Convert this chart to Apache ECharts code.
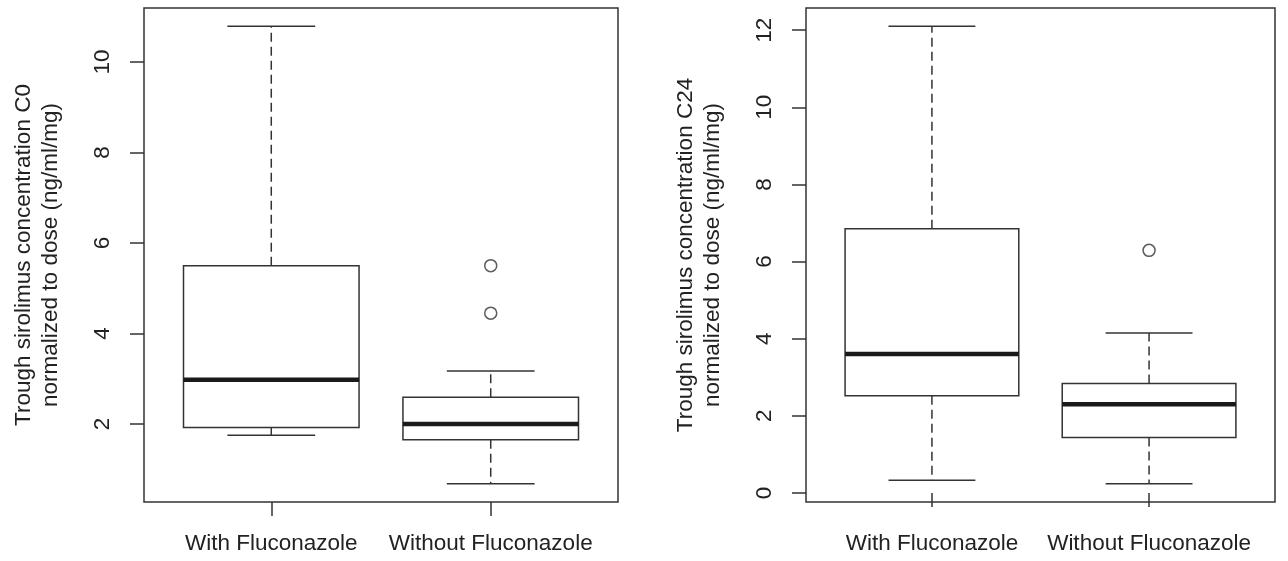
<!DOCTYPE html>
<html>
<head>
<meta charset="utf-8">
<script src="https://cdn.jsdelivr.net/npm/echarts@6/dist/echarts.min.js"></script>
<style>
  html, body { margin: 0; padding: 0; background: #fff; }
  #chart { width: 1288px; height: 561px; }
</style>
</head>
<body>
<div id="chart"></div>
<script>
var categories = ['With Fluconazole', 'Without Fluconazole'];

// [lower whisker, Q1, median, Q3, upper whisker] per group
var c0Stats = [
    [1.75, 1.92, 2.98, 5.50, 10.79],
    [0.68, 1.65, 2.00, 2.59, 3.17]
];
var c0Outliers = [[2, 5.50], [2, 4.45]];
var c0Ticks = [2, 4, 6, 8, 10];

var c24Stats = [
    [0.33, 2.52, 3.60, 6.85, 12.10],
    [0.24, 1.44, 2.30, 2.84, 4.15]
];
var c24Outliers = [[2, 6.29]];
var c24Ticks = [0, 2, 4, 6, 8, 10, 12];

var lineColor = '#333';
var textColor = '#222';
var font = 'Liberation Sans, Arial, sans-serif';
var fontSize = 22.5;

var chart = echarts.init(document.getElementById('chart'));

function boxData(stats) {
    return stats.map(function (s, i) {
        return [i + 1].concat(s);
    });
}

// R style range: data range padded by 4% on each side
function yRange(stats, outliers) {
    var vals = [];
    stats.forEach(function (s) { vals = vals.concat(s); });
    outliers.forEach(function (o) { vals.push(o[1]); });
    var lo = Math.min.apply(null, vals), hi = Math.max.apply(null, vals);
    var pad = (hi - lo) * 0.04;
    return [lo - pad, hi + pad];
}

function renderBox(params, api) {
    var x = api.value(0);
    var lo = api.coord([x, api.value(1)]);
    var q1 = api.coord([x, api.value(2)]);
    var med = api.coord([x, api.value(3)]);
    var q3 = api.coord([x, api.value(4)]);
    var hi = api.coord([x, api.value(5)]);
    var half = api.size([0.4, 0])[0];
    var cap = half / 2;
    var cx = med[0];
    var solid = { stroke: lineColor, lineWidth: 1.5, fill: null };
    var dashed = { stroke: lineColor, lineWidth: 1.5, lineDash: [9, 5] };
    return {
        type: 'group',
        children: [
            { type: 'line', shape: { x1: cx, y1: q3[1], x2: cx, y2: hi[1] }, style: dashed },
            { type: 'line', shape: { x1: cx, y1: q1[1], x2: cx, y2: lo[1] }, style: dashed },
            { type: 'line', shape: { x1: cx - cap, y1: hi[1], x2: cx + cap, y2: hi[1] }, style: solid },
            { type: 'line', shape: { x1: cx - cap, y1: lo[1], x2: cx + cap, y2: lo[1] }, style: solid },
            { type: 'rect', shape: { x: cx - half, y: q3[1], width: half * 2, height: q1[1] - q3[1] },
              style: { stroke: lineColor, lineWidth: 1.5, fill: '#fff' } },
            { type: 'line', shape: { x1: cx - half, y1: med[1], x2: cx + half, y2: med[1] },
              style: { stroke: '#1a1a1a', lineWidth: 4.5 } }
        ]
    };
}

function xAxisFor(idx) {
    return {
        type: 'value', gridIndex: idx, min: 0.42, max: 2.58,
        axisLine: { show: false },
        splitLine: { show: false },
        axisTick: { show: true, inside: false, length: 14, customValues: [1, 2],
            lineStyle: { color: lineColor, width: 1.5 } },
        axisLabel: { customValues: [1, 2], margin: 30, color: textColor, fontSize: fontSize, fontFamily: font,
            formatter: function (v) { return categories[Math.round(v) - 1]; } }
    };
}

function yAxisFor(idx, range, ticks, name, gap) {
    return {
        type: 'value', gridIndex: idx, min: range[0], max: range[1],
        name: name, nameLocation: 'middle', nameGap: gap, nameRotate: 90,
        nameTextStyle: { color: textColor, fontSize: fontSize, fontFamily: font, lineHeight: 27 },
        axisLine: { show: false },
        splitLine: { show: false },
        axisTick: { show: true, length: 14, customValues: ticks,
            lineStyle: { color: lineColor, width: 1.5 } },
        axisLabel: { customValues: ticks, rotate: 90, margin: 30, color: textColor,
            fontSize: fontSize, fontFamily: font }
    };
}

var r0 = yRange(c0Stats, c0Outliers);
var r24 = yRange(c24Stats, c24Outliers);

var option = {
    backgroundColor: '#fff',
    animation: false,
    grid: [
        { left: 144, top: 8, width: 474, height: 494, show: true, borderColor: lineColor, borderWidth: 1.5, backgroundColor: 'transparent' },
        { left: 806, top: 8, width: 469, height: 494, show: true, borderColor: lineColor, borderWidth: 1.5, backgroundColor: 'transparent' }
    ],
    xAxis: [xAxisFor(0), xAxisFor(1)],
    yAxis: [
        yAxisFor(0, r0, c0Ticks, 'Trough sirolimus concentration C0\nnormalized to dose (ng/ml/mg)', 80),
        yAxisFor(1, r24, c24Ticks, 'Trough sirolimus concentration C24\nnormalized to dose (ng/ml/mg)', 80)
    ],
    series: [
        { type: 'custom', xAxisIndex: 0, yAxisIndex: 0, renderItem: renderBox,
          encode: { x: 0, y: [1, 2, 3, 4, 5] }, data: boxData(c0Stats) },
        { type: 'scatter', xAxisIndex: 0, yAxisIndex: 0, symbol: 'circle', symbolSize: 12,
          itemStyle: { color: '#fff', borderColor: lineColor, borderWidth: 1.5 }, data: c0Outliers },
        { type: 'custom', xAxisIndex: 1, yAxisIndex: 1, renderItem: renderBox,
          encode: { x: 0, y: [1, 2, 3, 4, 5] }, data: boxData(c24Stats) },
        { type: 'scatter', xAxisIndex: 1, yAxisIndex: 1, symbol: 'circle', symbolSize: 12,
          itemStyle: { color: '#fff', borderColor: lineColor, borderWidth: 1.5 }, data: c24Outliers }
    ]
};

chart.setOption(option);
</script>
</body>
</html>
